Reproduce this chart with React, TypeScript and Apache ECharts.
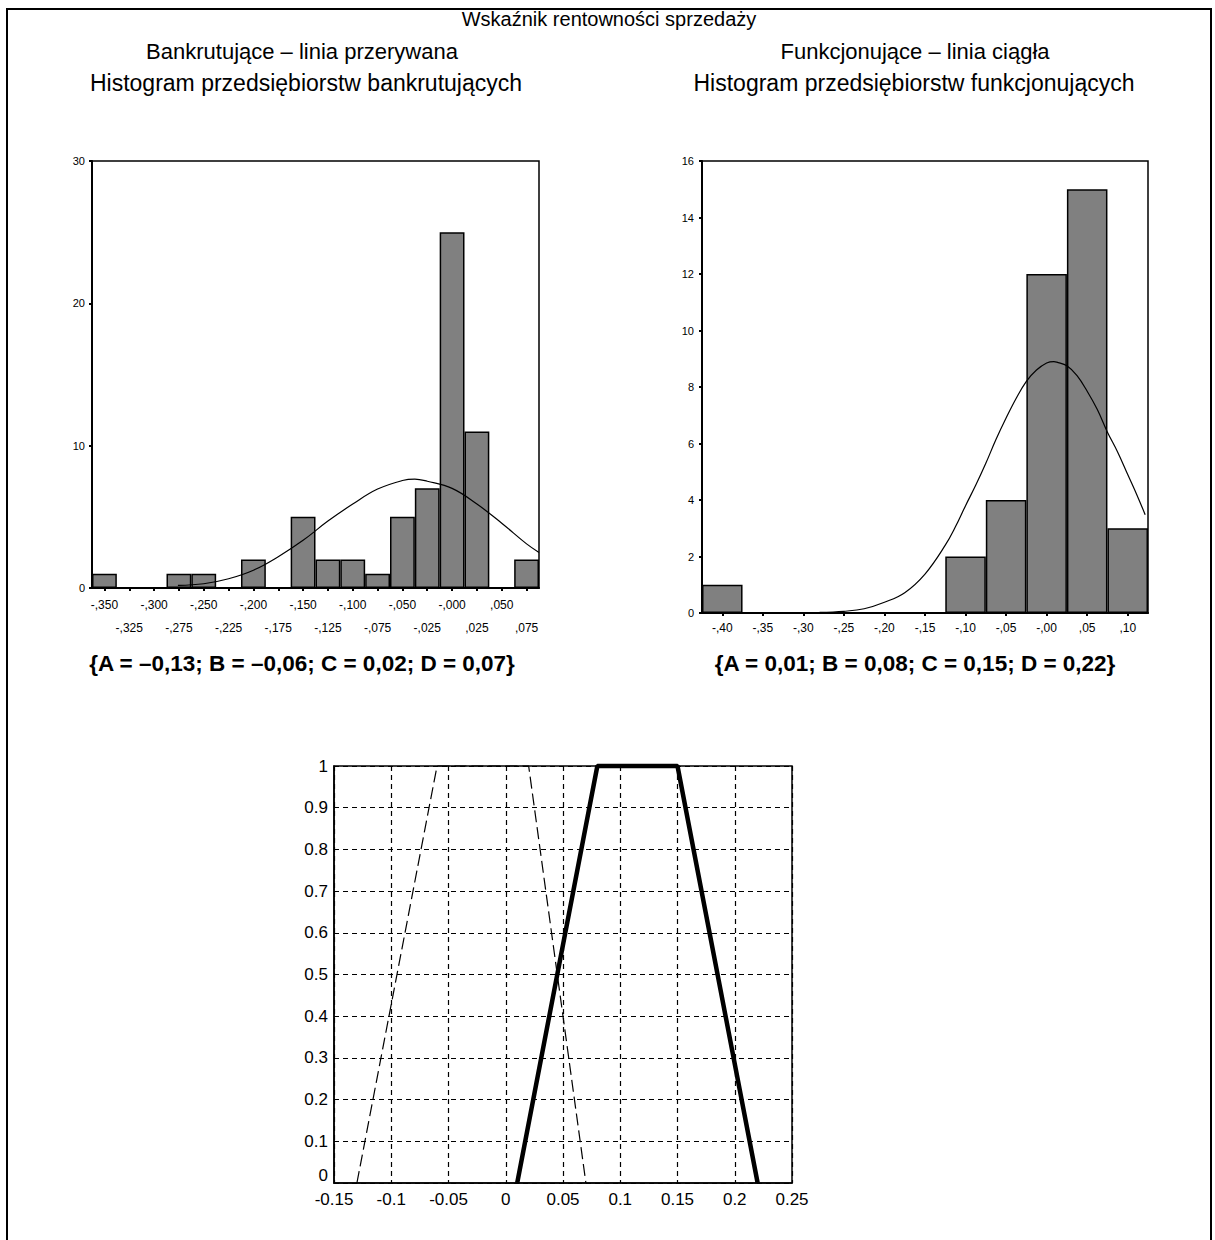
import React, { useEffect, useRef } from "react";
import * as echarts from "echarts";

// ---- data ----
const pageTitle = "Wskaźnik rentowności sprzedaży";
const leftLine1 = "Bankrutujące – linia przerywana";
const leftLine2 = "Histogram przedsiębiorstw bankrutujących";
const rightLine1 = "Funkcjonujące – linia ciągła";
const rightLine2 = "Histogram przedsiębiorstw funkcjonujących";
const leftParams = "{A = –0,13; B = –0,06; C = 0,02; D = 0,07}";
const rightParams = "{A = 0,01; B = 0,08; C = 0,15; D = 0,22}";

// bankrupt histogram (bin width 0.025)
const bankruptBins = [
  "-,350", "-,325", "-,300", "-,275", "-,250", "-,225", "-,200", "-,175", "-,150",
  "-,125", "-,100", "-,075", "-,050", "-,025", "-,000", ",025", ",050", ",075",
];
const bankruptCounts = [1, 0, 0, 1, 1, 0, 2, 0, 5, 2, 2, 1, 5, 7, 25, 11, 0, 2];
const bankruptRange = [-0.3625, 0.0875];
const bankruptCurveX = [-0.276, -0.25, -0.225, -0.2, -0.175, -0.15, -0.125, -0.1, -0.075, -0.05, -0.0375, -0.025, 0, 0.025, 0.05, 0.075, 0.0875];
const bankruptCurveY = [0.18, 0.3, 0.65, 1.25, 2.2, 3.35, 4.7, 5.9, 6.95, 7.55, 7.65, 7.5, 7.0, 5.9, 4.55, 3.1, 2.5];
const bankruptYTicks = [0, 30, 10];

// functioning histogram (bin width 0.05)
const functioningBins = ["-,40", "-,35", "-,30", "-,25", "-,20", "-,15", "-,10", "-,05", "-,00", ",05", ",10"];
const functioningCounts = [1, 0, 0, 0, 0, 0, 2, 4, 12, 15, 3];
const functioningRange = [-0.425, 0.125];
const functioningCurveX = [
  -0.28, -0.25, -0.225, -0.2, -0.175, -0.15, -0.125, -0.1125, -0.1, -0.0875, -0.075, -0.0625, -0.05,
  -0.0375, -0.025, -0.0125, 0, 0.009, 0.0125, 0.025, 0.0375, 0.05, 0.0625, 0.075, 0.0875, 0.1, 0.1125, 0.1215,
];
const functioningCurveY = [
  0.02, 0.06, 0.15, 0.38, 0.72, 1.38, 2.4, 3.05, 3.8, 4.52, 5.3, 6.14, 6.9,
  7.6, 8.2, 8.6, 8.85, 8.9, 8.88, 8.75, 8.4, 7.85, 7.2, 6.4, 5.7, 4.9, 4.1, 3.48,
];
const functioningYTicks = [0, 16, 2];

// membership functions (A, B, C, D)
const bankruptABCD = [-0.13, -0.06, 0.02, 0.07];
const functioningABCD = [0.01, 0.08, 0.15, 0.22];
const membershipLevels = [0, 1, 1, 0];
const membX = [-0.15, 0.25, 0.05];
const membY = [0, 1, 0.1];

const SANS = "'Liberation Sans', Arial, sans-serif";
const NARROW = "'Liberation Sans Narrow', 'Liberation Sans', Arial, sans-serif";

function zip(xs: number[], ys: number[]) {
  return xs.map((x, i) => [x, ys[i]]);
}

export default function App() {
  const ref = useRef<HTMLDivElement>(null);

  useEffect(() => {
    if (!ref.current) return;
    const chart = echarts.init(ref.current, undefined, { renderer: "svg" });

    const catAxisCommon = {
      type: "category",
      axisLine: { show: true, onZero: false, lineStyle: { color: "#000", width: 2 } },
      axisTick: { show: true, alignWithLabel: true, length: 3, lineStyle: { color: "#000", width: 2 } },
      splitLine: { show: false },
    };
    const histY = {
      type: "value",
      splitLine: { show: false },
      axisLine: { show: true, onZero: false, lineStyle: { color: "#000", width: 2 } },
      axisTick: { show: true, length: 3, lineStyle: { color: "#000", width: 2 } },
      axisLabel: { color: "#000", fontSize: 11, fontFamily: SANS, margin: 7 },
    };
    const dashedGrid = { show: true, lineStyle: { color: "#000", type: [5, 4], width: 1.2 } };

    const text = (t: string, x: number, y: number, size: number, bold = false) => ({
      type: "text",
      x,
      y,
      silent: true,
      style: {
        text: t,
        fill: "#000",
        font: `${bold ? "bold " : ""}${size}px ${SANS}`,
        textAlign: "center",
        textVerticalAlign: "middle",
        verticalAlign: "middle",
      },
    });

    const option: any = {
      animation: false,
      backgroundColor: "#fff",
      grid: [
        { left: 92, top: 161, width: 447, height: 427, show: true, borderColor: "#000", borderWidth: 1.5, backgroundColor: "transparent" },
        { left: 702, top: 161, width: 446, height: 452, show: true, borderColor: "#000", borderWidth: 1.5, backgroundColor: "transparent" },
        { left: 334, top: 766, width: 458, height: 417, show: true, borderColor: "#000", borderWidth: 1.5, backgroundColor: "transparent" },
      ],
      xAxis: [
        {
          ...catAxisCommon,
          gridIndex: 0,
          data: bankruptBins,
          axisLabel: {
            interval: 0,
            color: "#000",
            fontSize: 12,
            fontFamily: SANS,
            margin: 5,
            lineHeight: 23,
            formatter: (v: string, i: number) => (i % 2 === 0 ? v : "\n" + v),
          },
        },
        { type: "value", gridIndex: 0, min: bankruptRange[0], max: bankruptRange[1], show: false },
        {
          ...catAxisCommon,
          gridIndex: 1,
          data: functioningBins,
          axisLabel: { interval: 0, color: "#000", fontSize: 12, fontFamily: SANS, margin: 9 },
        },
        { type: "value", gridIndex: 1, min: functioningRange[0], max: functioningRange[1], show: false },
        {
          type: "value",
          gridIndex: 2,
          min: membX[0],
          max: membX[1],
          interval: membX[2],
          splitLine: dashedGrid,
          axisLine: { show: true, onZero: false, lineStyle: { color: "#000", width: 1.5 } },
          axisTick: { show: false },
          axisLabel: { color: "#000", fontSize: 17, fontFamily: NARROW, margin: 8 },
        },
      ],
      yAxis: [
        { ...histY, gridIndex: 0, min: bankruptYTicks[0], max: bankruptYTicks[1], interval: bankruptYTicks[2] },
        { ...histY, gridIndex: 1, min: functioningYTicks[0], max: functioningYTicks[1], interval: functioningYTicks[2], axisLabel: { ...histY.axisLabel, margin: 8 } },
        {
          type: "value",
          gridIndex: 2,
          min: membY[0],
          max: membY[1],
          interval: membY[2],
          splitLine: dashedGrid,
          axisLine: { show: true, onZero: false, lineStyle: { color: "#000", width: 1.5 } },
          axisTick: { show: false },
          axisLabel: {
            color: "#000",
            fontSize: 17,
            fontFamily: NARROW,
            margin: 6,
            formatter: (v: number) => (v === 0 ? "{z|0}" : String(Math.round(v * 10) / 10)),
            rich: { z: { fontSize: 17, fontFamily: NARROW, color: "#000", padding: [0, 0, 16, 0] } },
          },
        },
      ],
      series: [
        {
          type: "bar",
          xAxisIndex: 0,
          yAxisIndex: 0,
          data: bankruptCounts,
          barCategoryGap: "0%",
          itemStyle: { color: "#808080", borderColor: "#000", borderWidth: 1.5 },
        },
        {
          type: "line",
          xAxisIndex: 1,
          yAxisIndex: 0,
          data: zip(bankruptCurveX, bankruptCurveY),
          smooth: 0.4,
          symbol: "none",
          lineStyle: { color: "#000", width: 1.2 },
        },
        {
          type: "bar",
          xAxisIndex: 2,
          yAxisIndex: 1,
          data: functioningCounts,
          barCategoryGap: "0%",
          itemStyle: { color: "#808080", borderColor: "#000", borderWidth: 1.5 },
        },
        {
          type: "line",
          xAxisIndex: 3,
          yAxisIndex: 1,
          data: zip(functioningCurveX, functioningCurveY),
          smooth: 0.4,
          symbol: "none",
          lineStyle: { color: "#000", width: 1.2 },
        },
        {
          type: "line",
          xAxisIndex: 4,
          yAxisIndex: 2,
          data: zip(bankruptABCD, membershipLevels),
          symbol: "none",
          clip: false,
          lineStyle: { color: "#000", width: 1.2, type: [12, 5] },
        },
        {
          type: "line",
          xAxisIndex: 4,
          yAxisIndex: 2,
          data: zip(functioningABCD, membershipLevels),
          symbol: "none",
          clip: false,
          lineStyle: { color: "#000", width: 4.5 },
        },
      ],
      graphic: [
        {
          type: "rect",
          silent: true,
          shape: { x: 7, y: 9, width: 1204, height: 1260 },
          style: { fill: "transparent", stroke: "#000", lineWidth: 2 },
        },
        text(pageTitle, 609, 19, 20),
        text(leftLine1, 302, 51, 22),
        text(leftLine2, 306, 83, 23),
        text(rightLine1, 915, 51, 22),
        text(rightLine2, 914, 83, 23),
        text(leftParams, 302, 663, 22.5, true),
        text(rightParams, 915, 663, 22.5, true),
      ],
    };

    chart.setOption(option);
    return () => chart.dispose();
  }, []);

  return (
    <div
      ref={ref}
      style={{ position: "absolute", left: 0, top: 0, width: 1215, height: 1240, background: "#fff" }}
    />
  );
}
